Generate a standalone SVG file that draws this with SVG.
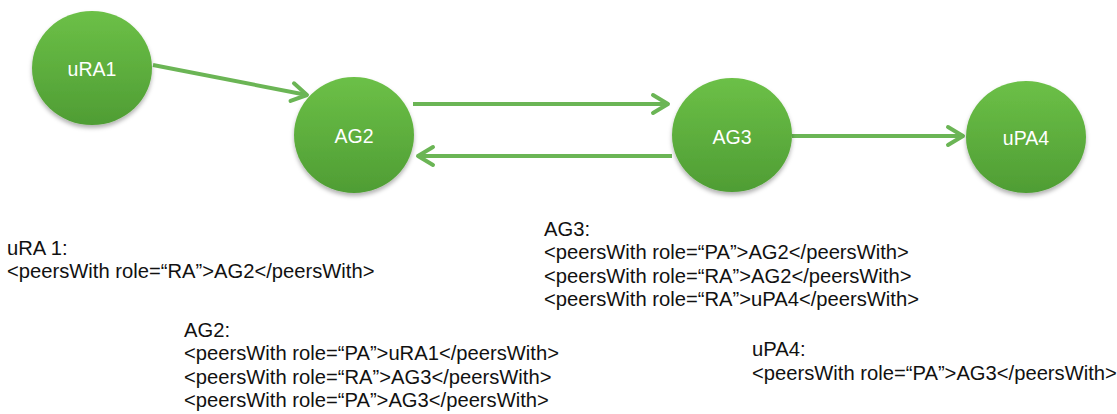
<svg xmlns="http://www.w3.org/2000/svg" width="1117" height="414" viewBox="0 0 1117 414">
<style>
.node{fill:url(#g);filter:url(#sh)}
.lbl{font-family:"Liberation Sans",Arial,sans-serif;font-size:19.5px;fill:#fff;text-anchor:middle}
.edge{stroke:#6bb555;stroke-width:4;fill:none;marker-end:url(#arr)}
.txt{font-family:"Liberation Sans",Arial,sans-serif;font-size:20.2px;fill:#111}
</style>
<defs>
<linearGradient id="g" x1="0" y1="0" x2="0" y2="1">
<stop offset="0" stop-color="#6cc047"/>
<stop offset="1" stop-color="#4f9d34"/>
</linearGradient>
<filter id="sh" x="-20%" y="-20%" width="140%" height="150%">
<feDropShadow dx="0" dy="3" stdDeviation="2" flood-color="#000" flood-opacity="0.3"/>
</filter>
<marker id="arr" markerUnits="userSpaceOnUse" markerWidth="30" markerHeight="30" viewBox="-22 -15 30 30" refX="0" refY="0" orient="auto" overflow="visible">
<path d="M-15,-9 L0,0 L-15,9" fill="none" stroke="#6bb555" stroke-width="4" stroke-linecap="round" stroke-linejoin="round"/>
</marker>
</defs>
<g id="connectors">
<line class="edge" x1="153" y1="65" x2="307" y2="95"/>
<line class="edge" x1="413" y1="104" x2="668" y2="104"/>
<line class="edge" x1="672" y1="156" x2="418" y2="156"/>
<line class="edge" x1="792" y1="136" x2="963" y2="136"/>
</g>
<g id="uRA1"><ellipse class="node" cx="92" cy="68" rx="60" ry="57"/><text class="lbl" x="92" y="76">uRA1</text></g>
<g id="AG2"><ellipse class="node" cx="354" cy="135" rx="60" ry="58"/><text class="lbl" x="354" y="143">AG2</text></g>
<g id="AG3"><ellipse class="node" cx="732" cy="135" rx="60" ry="57"/><text class="lbl" x="732" y="144">AG3</text></g>
<g id="uPA4"><ellipse class="node" cx="1026" cy="137" rx="60" ry="56"/><text class="lbl" x="1026" y="145">uPA4</text></g>
<g id="note-uRA1" class="txt">
<text x="7" y="255">uRA 1:</text>
<text x="7" y="278">&lt;peersWith role=“RA”&gt;AG2&lt;/peersWith&gt;</text>
</g>
<g id="note-AG3" class="txt">
<text x="544" y="236">AG3:</text>
<text x="544" y="259">&lt;peersWith role=“PA”&gt;AG2&lt;/peersWith&gt;</text>
<text x="544" y="283">&lt;peersWith role=“RA”&gt;AG2&lt;/peersWith&gt;</text>
<text x="544" y="306">&lt;peersWith role=“RA”&gt;uPA4&lt;/peersWith&gt;</text>
</g>
<g id="note-AG2" class="txt">
<text x="184" y="337">AG2:</text>
<text x="184" y="360">&lt;peersWith role=“PA”&gt;uRA1&lt;/peersWith&gt;</text>
<text x="184" y="384">&lt;peersWith role=“RA”&gt;AG3&lt;/peersWith&gt;</text>
<text x="184" y="407">&lt;peersWith role=“PA”&gt;AG3&lt;/peersWith&gt;</text>
</g>
<g id="note-uPA4" class="txt">
<text x="752" y="356">uPA4:</text>
<text x="752" y="380">&lt;peersWith role=“PA”&gt;AG3&lt;/peersWith&gt;</text>
</g>
</svg>
